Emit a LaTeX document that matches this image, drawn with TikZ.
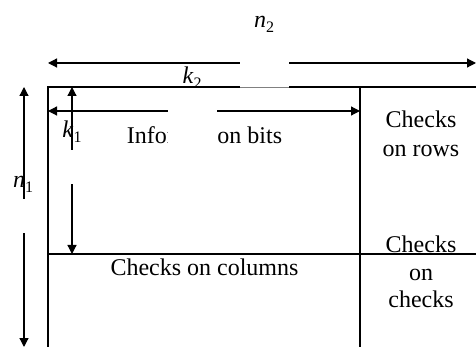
\documentclass[tikz,border=0pt]{standalone}
\usepackage{fontspec}
\setmainfont{Liberation Serif}
\usetikzlibrary{arrows.meta}
\newcommand{\ilbl}[2]{\textit{#1}\raisebox{-0.4ex}{\footnotesize #2}}
\begin{document}
\begin{tikzpicture}[x=0.5pt,y=-0.5pt,
  tip/.tip={Triangle[length=4.5pt,width=4.5pt]},
  dim/.style={line width=0.6pt,tip-tip},
  border/.style={line width=1pt},
  mask/.style={fill=white,draw=none},
  txt/.style={font=\fontsize{12}{14}\selectfont, inner sep=0pt, anchor=base},
]
\useasboundingbox (0,0) rectangle (476,347);
% coordinates
\coordinate (n2l) at (48,63);  \coordinate (n2r) at (476,63);
\coordinate (k2l) at (48,111); \coordinate (k2r) at (360,111);
\coordinate (n1t) at (24,87);  \coordinate (n1b) at (24,347);
\coordinate (k1t) at (72,87);  \coordinate (k1b) at (72,254);
\coordinate (tl) at (48,87); \coordinate (tr) at (476,87);
\coordinate (bl) at (48,347);
\coordinate (mt) at (360,87); \coordinate (mb) at (360,347);
\coordinate (ml) at (48,254); \coordinate (mr) at (476,254);
\coordinate (ga) at (240,87.6); \coordinate (gb) at (289,87.6);
% dimension arrows
\draw[dim] (n2l) -- (n2r);
\draw[dim] (k2l) -- (k2r);
\draw[dim] (n1t) -- (n1b);
\draw[dim] (k1t) -- (k1b);
% labels
\node[txt] (ln2) at (264,28) {\ilbl{n}{2}};
\node[txt] (lk2) at (192,84) {\ilbl{k}{2}};
\node[txt] (lk1) at (72,138) {\ilbl{k}{1}};
\node[txt] (ln1) at (23,188) {\ilbl{n}{1}};
\node[txt] (info) at (204.5,144) {Information bits};
\node[txt] (cr1) at (421,128) {Checks};
\node[txt] (cr2) at (421,157) {on rows};
\node[txt] (cc) at (204.5,275) {Checks on columns};
\node[txt] (ck1) at (421,252) {Checks};
\node[txt] (ck2) at (421,280) {on};
\node[txt] (ck3) at (421,307) {checks};
% masks
\fill[mask] (168,88) rectangle (217,150);
\fill[mask] (62,150) rectangle (82,184);
\fill[mask] (14,199) rectangle (34,233);
% grid
\draw[border] (tr) -- (tl) -- (bl);
\draw[border] (mt) -- (mb);
\draw[border] (ml) -- (mr);
\fill[mask] (240,45) rectangle (289,87);
\draw[line width=0.4pt, gray] (ga) -- (gb);
\end{tikzpicture}
\end{document}
